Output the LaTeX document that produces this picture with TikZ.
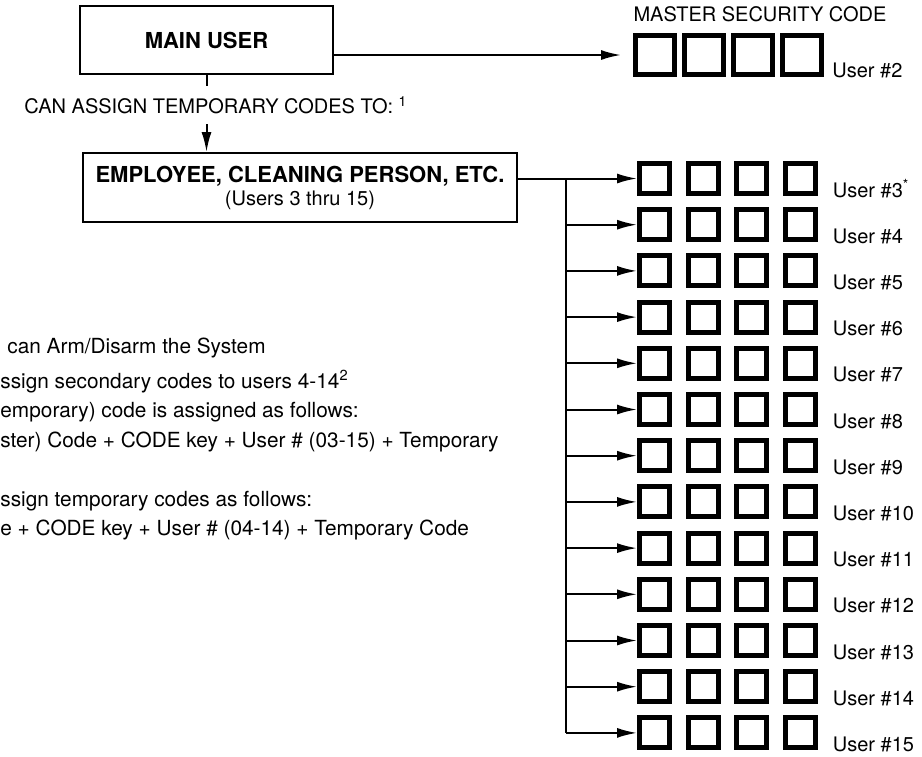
\documentclass[tikz,border=0pt]{standalone}
\usepackage{fontspec}
\setmainfont{TeX Gyre Heros}
\usetikzlibrary{arrows.meta}

\begin{document}
\begin{tikzpicture}[x=0.5pt,y=-0.5pt,
    box/.style={draw, line width=1pt, inner sep=0pt, align=center},
    key/.style={draw, line width=2.5pt, minimum size=15pt, inner sep=0pt},
    bigkey/.style={draw, line width=2.5pt, minimum size=19.5pt, inner sep=0pt},
    tag/.style={anchor=base west, inner sep=0pt, font=\fontsize{10}{12}\selectfont},
    note/.style={anchor=base west, inner sep=0pt, font=\fontsize{10.4}{12}\selectfont},
    link/.style={line width=1pt, -{Latex[length=10pt,width=5pt]}}]
    \useasboundingbox (0,0) rectangle (922,756);

    % main user and master code
    \node[box, minimum width=126.5pt, minimum height=34pt,
          font=\fontsize{11}{13}\selectfont\bfseries] (main) at (206.5,40) {MAIN USER};
    \node[font=\fontsize{10}{12}\selectfont] (mtitle) at (760,14) {MASTER SECURITY CODE};
    \foreach \c [count=\i] in {655,704,753,802}
      \node[bigkey] (m\i) at (\c,55) {};
    \node[tag] (u2) at ([xshift=4pt]m4.south east) {User \#2};
    \draw[link] (main.east |- m1.west) -- ([xshift=-6pt]m1.west);

    \node[font=\fontsize{10}{12}\selectfont, inner sep=5pt] (assign) at (216,105)
      {CAN ASSIGN TEMPORARY CODES TO: \textsuperscript{1}};

    \node[box, minimum width=217pt, minimum height=34.5pt,
          font=\fontsize{11}{11.5}\selectfont] (emp) at (300,187.5)
      {\textbf{EMPLOYEE, CLEANING PERSON, ETC.}\\
       {\fontsize{10}{12}\selectfont (Users 3 thru 15)}};

    \draw[line width=1pt] (main.south) -- (main.south |- assign.north);
    \draw[link] (main.south |- assign.south) -- (main.south |- emp.north);

    % users 3 to 15
    \foreach \r in {3,...,15} {
      \pgfmathsetmacro\yy{178.5+(\r-3)*46.2}
      \foreach \c [count=\i] in {654.5,703,751.5,800}
        \node[key] (s\r-\i) at (\c,\yy) {};
      \coordinate (t\r) at (566,\yy);
      \node[tag] (u\r) at ([xshift=7.5pt,yshift=-0.5pt]s\r-4.south east)
        {User \#\r\ifnum\r=3\textsuperscript{*}\fi};
    }
    \draw[link] (emp.east |- s3-1.west) -- (s3-1.west);
    \draw[line width=1pt] (t3) -- (t15);
    \foreach \r in {4,...,15}
      \draw[link] (t\r) -- (s\r-1.west);

    % notes, cut at the left edge
    \node[note] (n1) at (7,353) {can Arm/Disarm the System};
    \node[note] (n2) at (0,388) {ssign secondary codes to users 4-14\textsuperscript{2}};
    \node[note] (n3) at (0,417) {emporary) code is assigned as follows:};
    \node[note] (n4) at (0,447) {ster) Code + CODE key + User \# (03-15) + Temporary};
    \node[note] (n5) at (0,506) {ssign temporary codes as follows:};
    \node[note] (n6) at (0,535) {e + CODE key + User \# (04-14) + Temporary Code};
\end{tikzpicture}
\end{document}
